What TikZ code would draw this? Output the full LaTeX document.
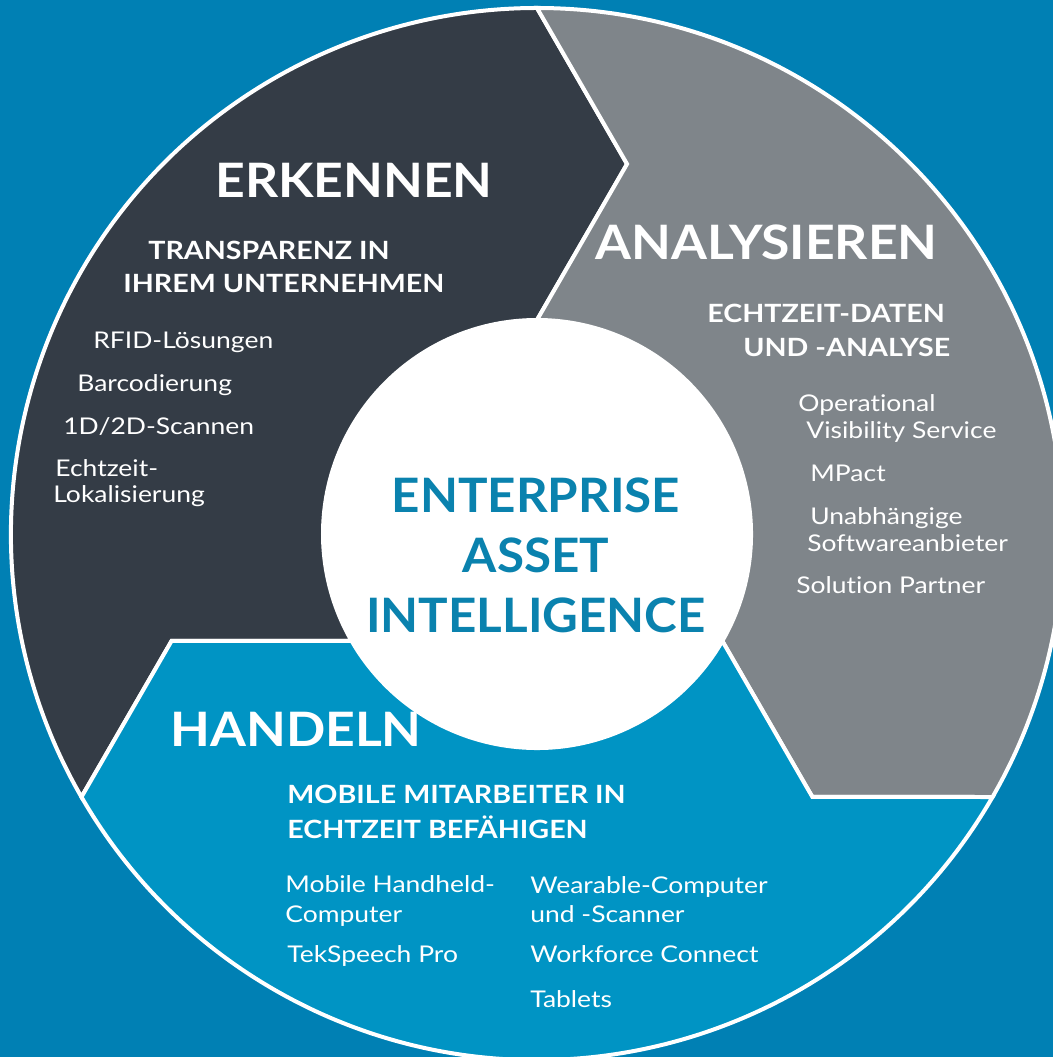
\documentclass[tikz,border=0pt]{standalone}
\usepackage{fontspec}
\setmainfont{Lato}
\newfontfamily\headfont[FakeStretch=1.09]{Lato}
\newfontfamily\corefont[FakeStretch=1.04]{Lato}
\newfontfamily\subfont[FakeStretch=1.14]{Lato}
\newfontfamily\itemfont[FakeStretch=1.15,Ligatures=NoCommon]{Lato}
\usetikzlibrary{positioning}
\definecolor{bgBlue}{HTML}{0080B4}
\definecolor{hanBlue}{HTML}{0094C4}
\definecolor{erkDark}{HTML}{343C46}
\definecolor{anaGray}{HTML}{7F858A}
\definecolor{eaiTeal}{HTML}{0A82AE}
\begin{document}
\begin{tikzpicture}[x=0.02cm,y=0.02cm,
  head/.style={anchor=base west,inner sep=0pt,text=white,font=\headfont\fontsize{27}{30}\selectfont\bfseries},
  subhead/.style={anchor=base west,inner sep=0pt,text=white,font=\subfont\fontsize{14.3}{18}\selectfont\bfseries},
  item/.style={anchor=base west,inner sep=0pt,text=white,font=\itemfont\fontsize{13.1}{15.4}\selectfont}]
  \fill[bgBlue] (-537,-523) rectangle (516,534);
  \clip (-537,-523) rectangle (516,534);
  % three arrow segments, head angle / colour
  \foreach \a/\c in {90/erkDark,-30/anaGray,210/hanBlue}
    \filldraw[fill=\c,draw=white,line width=0.08cm,line join=miter]
      (\a+120:526) arc[start angle=\a+120,end angle=\a,radius=526] -- (\a-13.68:380.8) -- (\a:214)
      arc[start angle=\a,end angle=\a+120,radius=214] -- (\a+106.32:380.8) -- cycle;
  \fill[white] (0,0) circle[radius=214];
  \node[align=center,inner sep=0pt,text=eaiTeal,font=\corefont\fontsize{27}{34.1}\selectfont\bfseries] (eai) at (-1,-21) {ENTERPRISE\\ASSET\\INTELLIGENCE};
  % erkennen
  \node[head] (erk) at (-322,336) {ERKENNEN};
  \node[subhead] (erk1) at (-389,274) {TRANSPARENZ IN};
  \node[subhead] (erk2) at (-414,241) {IHREM UNTERNEHMEN};
  \node[item] (rfid) at (-444,185) {RFID-Lösungen};
  \node[item] (barc) at (-460,142) {Barcodierung};
  \node[item] (scan) at (-474,99) {1D/2D-Scannen};
  \node[item] (echt) at (-482,57) {Echtzeit-};
  \node[item] (loka) at (-484,31) {Lokalisierung};
  % analysieren
  \node[head] (ana) at (58,274) {ANALYSIEREN};
  \node[subhead] (ana1) at (170,211) {ECHTZEIT-DATEN};
  \node[subhead] (ana2) at (206,177) {UND -ANALYSE};
  \node[item] (oper) at (261,122) {Operational};
  \node[item] (visi) at (269,95) {Visibility Service};
  \node[item] (mpac) at (273,52) {MPact};
  \node[item] (unab) at (273,9) {Unabhängige};
  \node[item] (soft) at (270,-18) {Softwareanbieter};
  \node[item] (solu) at (259,-60) {Solution Partner};
  % handeln
  \node[head] (han) at (-367,-212) {HANDELN};
  \node[subhead] (han1) at (-250,-269) {MOBILE MITARBEITER IN};
  \node[subhead] (han2) at (-250,-304) {ECHTZEIT BEFÄHIGEN};
  \node[item] (mobi) at (-252,-358) {Mobile Handheld-};
  \node[item] (comp) at (-252,-388) {Computer};
  \node[item] (teks) at (-250,-428) {TekSpeech Pro};
  \node[item] (wear) at (-7,-359) {Wearable-Computer};
  \node[item] (unds) at (-7,-388) {und -Scanner};
  \node[item] (work) at (-7,-428) {Workforce Connect};
  \node[item] (tabl) at (-7,-473) {Tablets};
\end{tikzpicture}
\end{document}
